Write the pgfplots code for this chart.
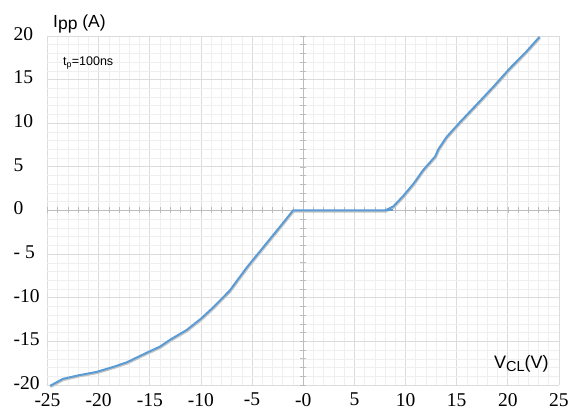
\documentclass[border=0pt]{standalone}
\usepackage{fontspec}
\setmainfont{Liberation Serif}
\newfontfamily\serf{Liberation Serif}
\newfontfamily\sansf{Liberation Sans}
\usepackage{pgfplots}
\pgfplotsset{compat=1.18}
\definecolor{curve}{HTML}{5B9BD5}
\definecolor{majg}{HTML}{DCDCDC}
\definecolor{ming}{HTML}{EFEFEF}
\definecolor{axg}{HTML}{BDBDBD}
\begin{document}
\begin{tikzpicture}
\useasboundingbox (-47.5pt,-27pt) rectangle (523.5pt,385pt);
\begin{axis}[
  scale only axis, width=511.5pt, height=349pt,
  xmin=-25, xmax=25, ymin=-20, ymax=20,
  xtick={-25,-20,...,25},
  xticklabels={-25,-20,-15,-10,-5,-0,5,10,15,20,25},
  ytick={-20,-15,...,20},
  yticklabels={-20,-15,-10,- 5,0,5,10,15,20},
  minor tick num=4,
  grid=both,
  major grid style={draw=majg, line width=0.8pt},
  minor grid style={draw=ming, line width=0.6pt},
  axis line style={draw=none},
  tick style={draw=none},
  ticklabel style={font=\serf\fontsize{19.5}{20}\selectfont, inner sep=0pt},
  xticklabel style={anchor=north, yshift=-8pt},
  yticklabel style={anchor=west, xshift=-34pt, yshift=2pt},
  clip=false,
]
\end{axis}
\begin{axis}[
  scale only axis, width=511.5pt, height=349pt,
  xmin=-25, xmax=25, ymin=-20, ymax=20,
  axis lines=middle,
  axis line style={draw=axg, line width=0.8pt, -},
  xtick={-25,-24,...,25}, ytick={-20,-19,...,20},
  xticklabels={}, yticklabels={},
  tick style={draw=axg, line width=0.7pt},
  major tick length=6pt, tick align=center,
  clip=false,
]
\addplot[gray!45, line width=2pt, yshift=-1.2pt, xshift=0.6pt] coordinates {
(-24.75,-20.1)(-23.5,-19.3)(-22,-18.9)(-20.2,-18.5)(-18.5,-17.9)(-17.25,-17.4)
(-15.3,-16.3)(-14.0,-15.6)(-13.0,-14.8)(-11.4,-13.7)(-10,-12.4)(-8.8,-11.1)
(-7.2,-9.2)(-5.5,-6.5)(-3.9,-4.2)(-2.3,-1.9)(-1.0,0)(8.0,0)(8.8,0.46)(9.8,1.7)
(10.8,3.1)(11.7,4.6)(12.9,6.2)(13.2,7.0)(14.0,8.4)(15.3,10.1)(17.0,12.2)
(18.6,14.2)(20.2,16.3)(21.8,18.2)(23.1,19.9)};
\addplot[curve, line width=2pt] coordinates {
(-24.75,-20.1)(-23.5,-19.3)(-22,-18.9)(-20.2,-18.5)(-18.5,-17.9)(-17.25,-17.4)
(-15.3,-16.3)(-14.0,-15.6)(-13.0,-14.8)(-11.4,-13.7)(-10,-12.4)(-8.8,-11.1)
(-7.2,-9.2)(-5.5,-6.5)(-3.9,-4.2)(-2.3,-1.9)(-1.0,0)(8.0,0)(8.8,0.46)(9.8,1.7)
(10.8,3.1)(11.7,4.6)(12.9,6.2)(13.2,7.0)(14.0,8.4)(15.3,10.1)(17.0,12.2)
(18.6,14.2)(20.2,16.3)(21.8,18.2)(23.1,19.9)};
\addplot[curve, line width=2pt] coordinates {(8.0,0)(8.8,0)};
\node[anchor=base west, inner sep=0pt, font=\sansf\fontsize{17.5}{18}\selectfont]
  at (axis cs:-24.46,21.0) {I\raisebox{-2.5pt}{pp} (A)};
\node[anchor=base east, inner sep=0pt, font=\sansf\fontsize{18}{18}\selectfont]
  at (axis cs:24.0,-18.1) {V\raisebox{-3pt}{\fontsize{14.5}{15}\selectfont CL}(V)};
\node[anchor=base west, inner sep=0pt, font=\sansf\fontsize{12.5}{13}\selectfont]
  at (axis cs:-23.5,16.6) {t\textsubscript{p}=100ns};
\end{axis}
\end{tikzpicture}
\end{document}
